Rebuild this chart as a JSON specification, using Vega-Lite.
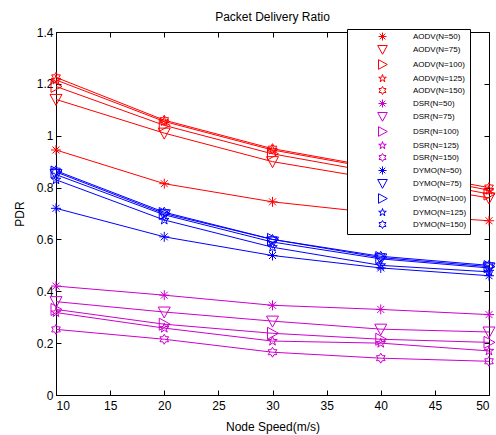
{
  "$schema": "https://vega.github.io/schema/vega-lite/v6.json",
  "autosize": {"type": "none"},
  "padding": {"left": 56, "top": 32, "right": 7, "bottom": 40},
  "width": 433,
  "height": 363,
  "title": {"text": "Packet Delivery Ratio", "font": "Liberation Sans", "fontSize": 12, "fontWeight": "normal", "color": "#000", "offset": 2},
  "config": {
    "view": {"stroke": "#000", "strokeWidth": 1},
    "axis": {"grid": false, "domainColor": "#000", "tickColor": "#000", "labelColor": "#000", "titleColor": "#000", "labelFont": "Liberation Sans", "titleFont": "Liberation Sans", "labelFontSize": 12, "titleFontSize": 12, "titleFontWeight": "normal", "tickSize": -5, "labelPadding": 8},
    "legend": {
      "title": null, "orient": "none", "legendX": 291, "legendY": -3,
      "strokeColor": "#000", "fillColor": "#fff", "padding": 3,
      "symbolSize": 64, "symbolOffset": 28, "labelOffset": 26, "symbolStrokeWidth": 1,
      "labelFont": "Liberation Sans", "labelFontSize": 8, "labelColor": "#000", "rowPadding": 0
    }
  },
  "data": {"values": [
    {"speed": 10, "pdr": 0.945, "series": "AODV(N=50)"},
    {"speed": 20, "pdr": 0.815, "series": "AODV(N=50)"},
    {"speed": 30, "pdr": 0.745, "series": "AODV(N=50)"},
    {"speed": 40, "pdr": 0.70, "series": "AODV(N=50)"},
    {"speed": 50, "pdr": 0.672, "series": "AODV(N=50)"},
    {"speed": 10, "pdr": 1.14, "series": "AODV(N=75)"},
    {"speed": 20, "pdr": 1.01, "series": "AODV(N=75)"},
    {"speed": 30, "pdr": 0.90, "series": "AODV(N=75)"},
    {"speed": 40, "pdr": 0.83, "series": "AODV(N=75)"},
    {"speed": 50, "pdr": 0.76, "series": "AODV(N=75)"},
    {"speed": 10, "pdr": 1.19, "series": "AODV(N=100)"},
    {"speed": 20, "pdr": 1.04, "series": "AODV(N=100)"},
    {"speed": 30, "pdr": 0.93, "series": "AODV(N=100)"},
    {"speed": 40, "pdr": 0.855, "series": "AODV(N=100)"},
    {"speed": 50, "pdr": 0.775, "series": "AODV(N=100)"},
    {"speed": 10, "pdr": 1.215, "series": "AODV(N=125)"},
    {"speed": 20, "pdr": 1.055, "series": "AODV(N=125)"},
    {"speed": 30, "pdr": 0.945, "series": "AODV(N=125)"},
    {"speed": 40, "pdr": 0.87, "series": "AODV(N=125)"},
    {"speed": 50, "pdr": 0.79, "series": "AODV(N=125)"},
    {"speed": 10, "pdr": 1.225, "series": "AODV(N=150)"},
    {"speed": 20, "pdr": 1.06, "series": "AODV(N=150)"},
    {"speed": 30, "pdr": 0.95, "series": "AODV(N=150)"},
    {"speed": 40, "pdr": 0.875, "series": "AODV(N=150)"},
    {"speed": 50, "pdr": 0.80, "series": "AODV(N=150)"},
    {"speed": 10, "pdr": 0.42, "series": "DSR(N=50)"},
    {"speed": 20, "pdr": 0.385, "series": "DSR(N=50)"},
    {"speed": 30, "pdr": 0.346, "series": "DSR(N=50)"},
    {"speed": 40, "pdr": 0.33, "series": "DSR(N=50)"},
    {"speed": 50, "pdr": 0.31, "series": "DSR(N=50)"},
    {"speed": 10, "pdr": 0.36, "series": "DSR(N=75)"},
    {"speed": 20, "pdr": 0.32, "series": "DSR(N=75)"},
    {"speed": 30, "pdr": 0.285, "series": "DSR(N=75)"},
    {"speed": 40, "pdr": 0.254, "series": "DSR(N=75)"},
    {"speed": 50, "pdr": 0.243, "series": "DSR(N=75)"},
    {"speed": 10, "pdr": 0.33, "series": "DSR(N=100)"},
    {"speed": 20, "pdr": 0.273, "series": "DSR(N=100)"},
    {"speed": 30, "pdr": 0.238, "series": "DSR(N=100)"},
    {"speed": 40, "pdr": 0.215, "series": "DSR(N=100)"},
    {"speed": 50, "pdr": 0.203, "series": "DSR(N=100)"},
    {"speed": 10, "pdr": 0.318, "series": "DSR(N=125)"},
    {"speed": 20, "pdr": 0.258, "series": "DSR(N=125)"},
    {"speed": 30, "pdr": 0.208, "series": "DSR(N=125)"},
    {"speed": 40, "pdr": 0.20, "series": "DSR(N=125)"},
    {"speed": 50, "pdr": 0.17, "series": "DSR(N=125)"},
    {"speed": 10, "pdr": 0.253, "series": "DSR(N=150)"},
    {"speed": 20, "pdr": 0.215, "series": "DSR(N=150)"},
    {"speed": 30, "pdr": 0.165, "series": "DSR(N=150)"},
    {"speed": 40, "pdr": 0.142, "series": "DSR(N=150)"},
    {"speed": 50, "pdr": 0.13, "series": "DSR(N=150)"},
    {"speed": 10, "pdr": 0.72, "series": "DYMO(N=50)"},
    {"speed": 20, "pdr": 0.61, "series": "DYMO(N=50)"},
    {"speed": 30, "pdr": 0.538, "series": "DYMO(N=50)"},
    {"speed": 40, "pdr": 0.49, "series": "DYMO(N=50)"},
    {"speed": 50, "pdr": 0.46, "series": "DYMO(N=50)"},
    {"speed": 10, "pdr": 0.85, "series": "DYMO(N=75)"},
    {"speed": 20, "pdr": 0.695, "series": "DYMO(N=75)"},
    {"speed": 30, "pdr": 0.59, "series": "DYMO(N=75)"},
    {"speed": 40, "pdr": 0.525, "series": "DYMO(N=75)"},
    {"speed": 50, "pdr": 0.49, "series": "DYMO(N=75)"},
    {"speed": 10, "pdr": 0.86, "series": "DYMO(N=100)"},
    {"speed": 20, "pdr": 0.70, "series": "DYMO(N=100)"},
    {"speed": 30, "pdr": 0.60, "series": "DYMO(N=100)"},
    {"speed": 40, "pdr": 0.53, "series": "DYMO(N=100)"},
    {"speed": 50, "pdr": 0.495, "series": "DYMO(N=100)"},
    {"speed": 10, "pdr": 0.83, "series": "DYMO(N=125)"},
    {"speed": 20, "pdr": 0.675, "series": "DYMO(N=125)"},
    {"speed": 30, "pdr": 0.57, "series": "DYMO(N=125)"},
    {"speed": 40, "pdr": 0.50, "series": "DYMO(N=125)"},
    {"speed": 50, "pdr": 0.475, "series": "DYMO(N=125)"},
    {"speed": 10, "pdr": 0.865, "series": "DYMO(N=150)"},
    {"speed": 20, "pdr": 0.705, "series": "DYMO(N=150)"},
    {"speed": 30, "pdr": 0.60, "series": "DYMO(N=150)"},
    {"speed": 40, "pdr": 0.535, "series": "DYMO(N=150)"},
    {"speed": 50, "pdr": 0.50, "series": "DYMO(N=150)"}
  ]},
  "transform": [{"calculate": "datum.series", "as": "marker"}],
  "resolve": {"axis": {"x": "independent", "y": "independent"}},
  "layer": [
    {
      "mark": {"type": "point", "filled": false, "strokeWidth": 1, "size": 100, "opacity": 1},
      "encoding": {
        "x": {"field": "speed", "type": "quantitative", "scale": {"domain": [10, 50], "nice": false, "zero": false}, "axis": {"values": [10, 15, 20, 25, 30, 35, 40, 45, 50], "title": "Node Speed(m/s)", "titlePadding": 10, "labelPadding": 10}},
        "y": {"field": "pdr", "type": "quantitative", "scale": {"domain": [0, 1.4], "nice": false}, "axis": {"values": [0, 0.2, 0.4, 0.6, 0.8, 1, 1.2, 1.4], "format": "~g", "title": "PDR", "titlePadding": 10}},
        "color": {
          "field": "series", "type": "nominal",
          "scale": {
            "domain": ["AODV(N=50)", "AODV(N=75)", "AODV(N=100)", "AODV(N=125)", "AODV(N=150)", "DSR(N=50)", "DSR(N=75)", "DSR(N=100)", "DSR(N=125)", "DSR(N=150)", "DYMO(N=50)", "DYMO(N=75)", "DYMO(N=100)", "DYMO(N=125)", "DYMO(N=150)"],
            "range": ["#ff0000", "#ff0000", "#ff0000", "#ff0000", "#ff0000", "#cc00cc", "#cc00cc", "#cc00cc", "#cc00cc", "#cc00cc", "#0000ff", "#0000ff", "#0000ff", "#0000ff", "#0000ff"]
          },
          "legend": {
            "labelExpr": "datum.label + '         '",
            "encode": {"symbols": {"shape": {"value": {"expr": "'M-6.25,0H6.25' + scale('shape', datum.value)"}}, "size": {"value": 64}, "fill": {"value": "transparent"}}}
          }
        },
        "shape": {
          "field": "marker", "type": "nominal", "legend": null,
          "scale": {
            "domain": ["AODV(N=50)", "AODV(N=75)", "AODV(N=100)", "AODV(N=125)", "AODV(N=150)", "DSR(N=50)", "DSR(N=75)", "DSR(N=100)", "DSR(N=125)", "DSR(N=150)", "DYMO(N=50)", "DYMO(N=75)", "DYMO(N=100)", "DYMO(N=125)", "DYMO(N=150)"],
            "range": [
              "M-1,0H1M0,-1V1M-0.7,-0.7L0.7,0.7M-0.7,0.7L0.7,-0.7",
              "M-1.2,-1L1.2,-1L0,1.2Z",
              "M-1,-1.2L1.2,0L-1,1.2Z",
              "M0,-1L0.225,-0.309L0.951,-0.309L0.363,0.118L0.588,0.809L0,0.382L-0.588,0.809L-0.363,0.118L-0.951,-0.309L-0.225,-0.309Z",
              "M0,-1L0.289,-0.5L0.866,-0.5L0.577,0L0.866,0.5L0.289,0.5L0,1L-0.289,0.5L-0.866,0.5L-0.577,0L-0.866,-0.5L-0.289,-0.5Z",
              "M-1,0H1M0,-1V1M-0.7,-0.7L0.7,0.7M-0.7,0.7L0.7,-0.7",
              "M-1.2,-1L1.2,-1L0,1.2Z",
              "M-1,-1.2L1.2,0L-1,1.2Z",
              "M0,-1L0.225,-0.309L0.951,-0.309L0.363,0.118L0.588,0.809L0,0.382L-0.588,0.809L-0.363,0.118L-0.951,-0.309L-0.225,-0.309Z",
              "M0,-1L0.289,-0.5L0.866,-0.5L0.577,0L0.866,0.5L0.289,0.5L0,1L-0.289,0.5L-0.866,0.5L-0.577,0L-0.866,-0.5L-0.289,-0.5Z",
              "M-1,0H1M0,-1V1M-0.7,-0.7L0.7,0.7M-0.7,0.7L0.7,-0.7",
              "M-1.2,-1L1.2,-1L0,1.2Z",
              "M-1,-1.2L1.2,0L-1,1.2Z",
              "M0,-1L0.225,-0.309L0.951,-0.309L0.363,0.118L0.588,0.809L0,0.382L-0.588,0.809L-0.363,0.118L-0.951,-0.309L-0.225,-0.309Z",
              "M0,-1L0.289,-0.5L0.866,-0.5L0.577,0L0.866,0.5L0.289,0.5L0,1L-0.289,0.5L-0.866,0.5L-0.577,0L-0.866,-0.5L-0.289,-0.5Z"
            ]
          }
        }
      }
    },
    {
      "mark": {"type": "line", "strokeWidth": 1},
      "encoding": {
        "x": {"field": "speed", "type": "quantitative", "axis": {"orient": "top", "labels": false, "title": null, "domain": false, "values": [10, 15, 20, 25, 30, 35, 40, 45, 50]}},
        "y": {"field": "pdr", "type": "quantitative", "axis": {"orient": "right", "labels": false, "title": null, "domain": false, "values": [0, 0.2, 0.4, 0.6, 0.8, 1, 1.2, 1.4]}},
        "color": {"field": "series", "type": "nominal"},
        "detail": {"field": "series"}
      }
    }
  ]
}
